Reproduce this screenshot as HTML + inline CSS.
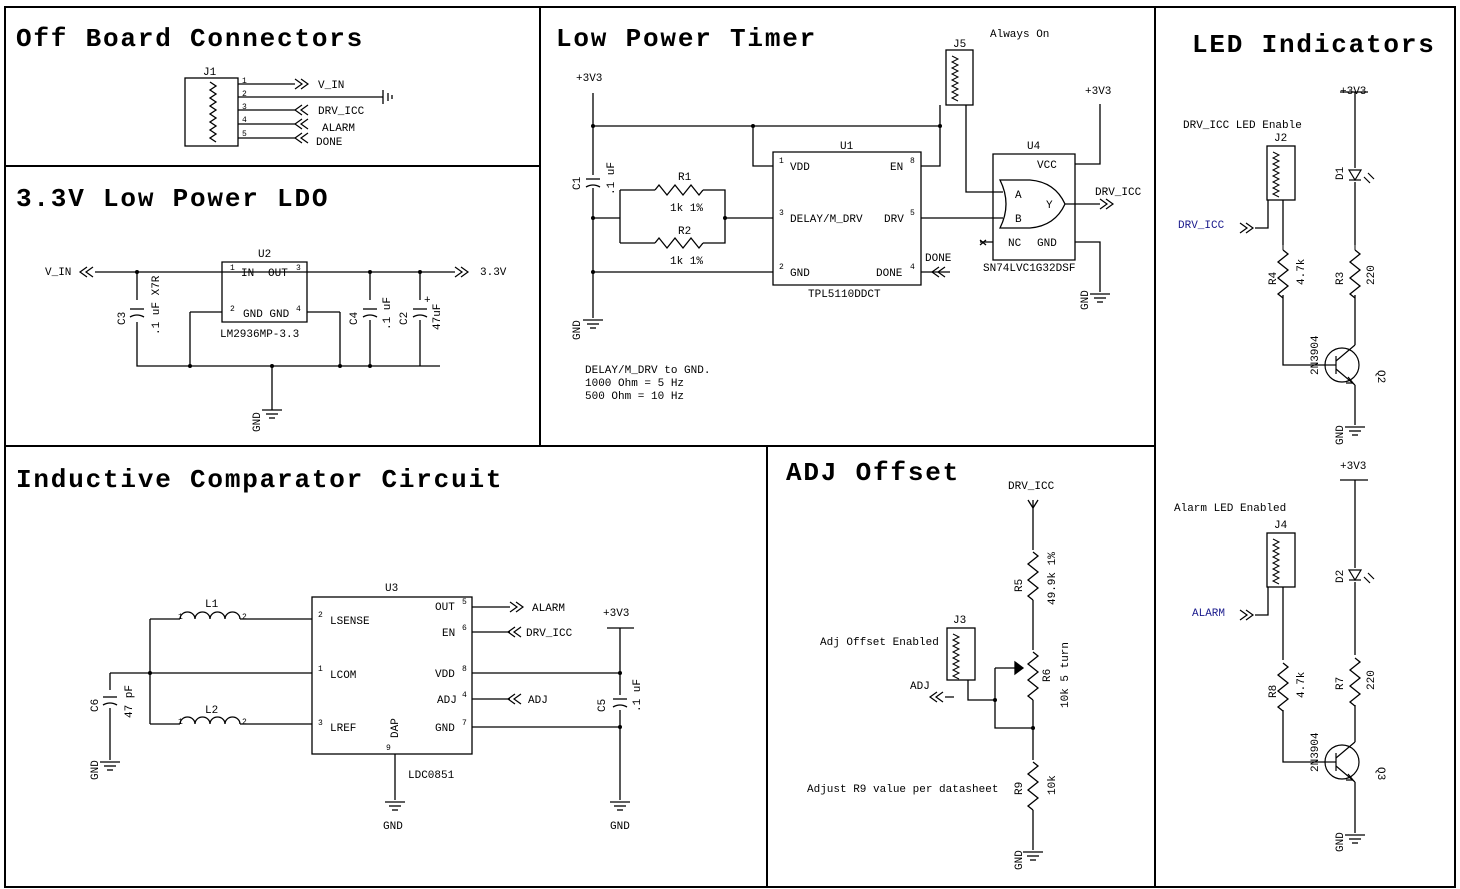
<!DOCTYPE html>
<html><head><meta charset="utf-8"><style>
html,body{margin:0;padding:0;background:#fff;}
svg{display:block;}
text{font-family:"Liberation Mono",monospace;fill:#000;}
.t{font-size:26px;font-weight:bold;letter-spacing:1.8px;}
.s{font-size:11px;}
.p{font-size:8px;}
.b{fill:#1a1a8c;font-size:11px;}
</style></head><body>
<svg width="1460" height="889" viewBox="0 0 1460 889" xmlns="http://www.w3.org/2000/svg">
<defs>
<g id="gnd" stroke="#000" fill="none" stroke-width="1.3"><line x1="-10" y1="0" x2="10" y2="0"/><line x1="-6" y1="4" x2="6" y2="4"/><line x1="-3" y1="8" x2="3" y2="8"/></g>
<path id="rv" d="M0 0 l5 4 l-10 8 l10 8 l-10 8 l10 8 l-10 8 l5 4" fill="none" stroke="#000" stroke-width="1.3"/>
<path id="rh" d="M0 0 l4 -5 l8 10 l8 -10 l8 10 l8 -10 l8 10 l4 -5" fill="none" stroke="#000" stroke-width="1.3"/>
<g id="cv" stroke="#000" fill="none" stroke-width="1.3"><line x1="-7" y1="-3" x2="7" y2="-3"/><path d="M-7 5 Q0 1 7 5"/></g>
<path id="ind" d="M0 0 a7.5 7 0 0 1 15 0 a7.5 7 0 0 1 15 0 a7.5 7 0 0 1 15 0 a7.5 7 0 0 1 15 0" fill="none" stroke="#000" stroke-width="1.3"/>
<path id="arR" d="M0 -5 l7 5 l-7 5 M6 -5 l7 5 l-7 5" fill="none" stroke="#000" stroke-width="1.2"/>
<path id="arL" d="M13 -5 l-7 5 l7 5 M7 -5 l-7 5 l7 5" fill="none" stroke="#000" stroke-width="1.2"/>
<g id="led" stroke="#000" fill="none" stroke-width="1.2"><path d="M-6 -5 L6 -5 L0 5 Z"/><line x1="-6" y1="5" x2="6" y2="5"/><path d="M9 2 l6 6 M13 -2 l6 6"/></g>
<g id="q" stroke="#000" fill="none" stroke-width="1.2"><circle cx="0" cy="0" r="17"/><line x1="-6" y1="-9" x2="-6" y2="9"/><line x1="-17" y1="0" x2="-6" y2="0"/><line x1="-6" y1="-4" x2="13" y2="-20"/><line x1="-6" y1="4" x2="13" y2="20"/><path d="M6 12 l5 6 l-7 0"/></g>
<path id="hdr" d="M0 0 l6 3 l-6 3 l6 3 l-6 3 l6 3 l-6 3 l6 3 l-6 3 l6 3 l-6 3 l6 3 l-6 3 l6 3 l-6 3 l6 3" fill="none" stroke="#000" stroke-width="1"/>
</defs>
<g stroke="#000" stroke-width="2" fill="none">
<rect x="5" y="7" width="1450" height="880"/>
<line x1="5" y1="166" x2="540" y2="166"/><line x1="540" y1="7" x2="540" y2="446"/>
<line x1="1155" y1="7" x2="1155" y2="887"/><line x1="5" y1="446" x2="1155" y2="446"/>
<line x1="767" y1="446" x2="767" y2="887"/>
</g>
<text class="t" x="16" y="46">Off Board Connectors</text>
<text class="t" x="16" y="206">3.3V Low Power LDO</text>
<text class="t" x="556" y="46">Low Power Timer</text>
<text class="t" x="1192" y="52">LED Indicators</text>
<text class="t" x="16" y="487">Inductive Comparator Circuit</text>
<text class="t" x="786" y="480">ADJ Offset</text>

<g stroke="#000" stroke-width="1.3" fill="none">
<rect x="185" y="78" width="53" height="68"/>
<path d="M210 82 l6 4 l-6 4 l6 4 l-6 4 l6 4 l-6 4 l6 4 l-6 4 l6 4 l-6 4 l6 4 l-6 4 l6 4 l-6 4 l6 4"/>
<path d="M238 84 H295 M238 97 H383 M238 110 H295 M238 124 H295 M238 138 H295"/>
<path d="M383 90 V104 M388 93 V101 M392 95 V99"/>
<path d="M95 272 H455 M137 272 V300 M137 322 V366 H440 M222 262 H307 V322 H222 Z M222 272 H240 M307 272 H290"/>
<path d="M190 312 V366 M340 312 V366 M307 312 H340 M190 312 H222 M272 366 V410 M370 272 V300 M370 320 V366 M420 272 V300 M420 320 V366"/>
<path d="M593 93 V175 M593 188 V318 M593 126 H940 M753 126 V166 H773 M773 152 H921 V285 H773 Z"/>
<path d="M593 218 H620 M620 190 V243 M620 190 H655 M703 190 H725 V243 H703 M655 243 H620 M725 218 H773 M593 272 H773"/>
<path d="M940 105 V166 H921 M966 105 V192 H1003 M921 218 H1003 M993 154 H1075 V260 H993 Z M1075 164 H1100 V104 M1075 242 H1100 V292"/>
<path d="M1000 180 Q1015 180 1030 180 Q1055 182 1065 204 Q1055 226 1030 228 L1000 228 Q1012 204 1000 180 Z M1065 204 H1100 M921 272 H950 M980 242 H993"/>
<path d="M980 240 l6 5 M986 240 l-6 5"/>
<rect x="946" y="50" width="27" height="55"/>
<path d="M1355 92 V168 M1355 182 V245 M1355 295 V345 M1355 385 V425 M1283 200 V245 M1283 295 V365 H1325 M1255 228 H1268 V200"/>
<rect x="1267" y="146" width="28" height="54"/>
<path d="M1355 480 V568 M1355 582 V655 M1355 705 V742 M1355 782 V833 M1283 587 V660 M1283 710 V762 H1325 M1255 615 H1268 V587"/>
<rect x="1267" y="533" width="28" height="54"/>
<path d="M1340 480 H1368 M1340 92 H1368"/>
<rect x="312" y="597" width="160" height="157"/>
<path d="M150 619 H180 M240 619 H312 M150 724 H180 M240 724 H312 M150 619 V724 M110 673 H312 M110 673 V690 M110 708 V760 M395 754 V800"/>
<path d="M472 607 H510 M472 632 H510 M472 673 H620 M472 699 H510 M472 727 H620 M620 628 V695 M620 710 V800 M607 628 H634"/>
<path d="M1033 500 V550 M1033 600 V650 M1033 700 V760 M1033 810 V850 M995 668 H1015 M995 668 V728 H1033 M968 680 V700 H995 M954 697 H945"/>
<path d="M1028 500 l5 8 l5 -8" />
<path d="M1015 662 l8 6 l-8 6 Z" fill="#000"/>
<rect x="947" y="628" width="28" height="52"/>
</g>
<g fill="#000"><circle cx="137" cy="272" r="2"/><circle cx="370" cy="272" r="2"/><circle cx="420" cy="272" r="2"/><circle cx="190" cy="366" r="2"/><circle cx="272" cy="366" r="2"/><circle cx="340" cy="366" r="2"/><circle cx="370" cy="366" r="2"/>
<circle cx="593" cy="126" r="2"/><circle cx="753" cy="126" r="2"/><circle cx="940" cy="126" r="2"/><circle cx="593" cy="218" r="2"/><circle cx="725" cy="218" r="2"/><circle cx="593" cy="272" r="2"/>
<circle cx="150" cy="673" r="2"/><circle cx="620" cy="673" r="2"/><circle cx="620" cy="727" r="2"/><circle cx="995" cy="700" r="2"/><circle cx="1033" cy="728" r="2"/></g>

<use href="#hdr" x="952" y="56"/><use href="#hdr" x="1273" y="152"/><use href="#hdr" x="1273" y="539"/><use href="#hdr" x="953" y="634"/>
<use href="#arR" x="295" y="84"/><use href="#arL" x="295" y="110"/><use href="#arL" x="295" y="124"/><use href="#arL" x="295" y="138"/>
<use href="#arL" x="80" y="272"/><use href="#arR" x="455" y="272"/>
<use href="#arR" x="1100" y="204"/><use href="#arL" x="932" y="272"/>
<use href="#arR" x="1240" y="228"/><use href="#arR" x="1240" y="615"/>
<use href="#arR" x="510" y="607"/><use href="#arL" x="508" y="632"/><use href="#arL" x="508" y="699"/><use href="#arL" x="930" y="697"/>
<use href="#rv" x="1283" y="250"/><use href="#rv" x="1355" y="250"/><use href="#rv" x="1283" y="663"/><use href="#rv" x="1355" y="658"/>
<use href="#rv" x="1033" y="552"/><use href="#rv" x="1033" y="652"/><use href="#rv" x="1033" y="762"/>
<path d="M1283 245 V250 M1283 298 V295 M1355 245 V250 M1355 298 V295" stroke="#000"/>
<use href="#rh" x="655" y="190"/><use href="#rh" x="655" y="243"/>
<use href="#ind" x="180" y="619"/><use href="#ind" x="180" y="724"/>
<use href="#cv" x="137" y="312"/><use href="#cv" x="370" y="312"/><use href="#cv" x="420" y="312"/><use href="#cv" x="593" y="182"/><use href="#cv" x="620" y="702"/><use href="#cv" x="110" y="700"/>
<use href="#led" x="1355" y="175"/><use href="#led" x="1355" y="575"/>
<use href="#q" x="1342" y="365"/><use href="#q" x="1342" y="762"/>
<use href="#gnd" x="272" y="410"/><use href="#gnd" x="593" y="320"/><use href="#gnd" x="1100" y="294"/><use href="#gnd" x="1355" y="427"/><use href="#gnd" x="1355" y="835"/>
<use href="#gnd" x="110" y="762"/><use href="#gnd" x="395" y="802"/><use href="#gnd" x="620" y="802"/><use href="#gnd" x="1033" y="852"/>

<text class="s" x="203" y="75">J1</text>
<text class="p" x="242" y="83">1</text><text class="p" x="242" y="96">2</text><text class="p" x="242" y="109">3</text><text class="p" x="242" y="122">4</text><text class="p" x="242" y="136">5</text>
<text class="s" x="318" y="88">V_IN</text><text class="s" x="318" y="114">DRV_ICC</text><text class="s" x="322" y="131">ALARM</text><text class="s" x="316" y="145">DONE</text>
<text class="s" x="45" y="275">V_IN</text><text class="s" x="480" y="275">3.3V</text>
<text class="s" x="258" y="257">U2</text><text class="s" x="241" y="276" font-size="9">IN</text><text class="s" x="268" y="276" font-size="9">OUT</text><text class="s" x="243" y="317" font-size="9">GND GND</text>
<text class="p" x="230" y="270">1</text><text class="p" x="296" y="270">3</text><text class="p" x="230" y="311">2</text><text class="p" x="296" y="311">4</text>
<text class="s" x="220" y="337">LM2936MP-3.3</text>
<text class="s" transform="translate(125,325) rotate(-90)">C3</text><text class="s" transform="translate(159,335) rotate(-90)">.1 uF  X7R</text>
<text class="s" transform="translate(357,325) rotate(-90)">C4</text><text class="s" transform="translate(390,330) rotate(-90)">.1 uF</text>
<text class="s" transform="translate(407,325) rotate(-90)">C2</text><text class="s" transform="translate(440,330) rotate(-90)">47uF</text><text class="s" x="424" y="303">+</text>
<text class="s" transform="translate(260,432) rotate(-90)">GND</text>
<text class="s" x="576" y="81">+3V3</text><text class="s" transform="translate(580,190) rotate(-90)">C1</text><text class="s" transform="translate(614,195) rotate(-90)">.1 uF</text>
<text class="s" transform="translate(580,340) rotate(-90)">GND</text>
<text class="s" x="678" y="180">R1</text><text class="s" x="670" y="211">1k  1%</text><text class="s" x="678" y="234">R2</text><text class="s" x="670" y="264">1k  1%</text>
<text class="s" x="840" y="149">U1</text><text class="s" x="790" y="170" font-size="9">VDD</text><text class="s" x="790" y="222" font-size="9">DELAY/M_DRV</text><text class="s" x="790" y="276" font-size="9">GND</text>
<text class="s" x="890" y="170" font-size="9">EN</text><text class="s" x="884" y="222" font-size="9">DRV</text><text class="s" x="876" y="276" font-size="9">DONE</text>
<text class="p" x="779" y="163">1</text><text class="p" x="779" y="215">3</text><text class="p" x="779" y="269">2</text><text class="p" x="910" y="163">8</text><text class="p" x="910" y="215">5</text><text class="p" x="910" y="269">4</text>
<text class="s" x="808" y="297">TPL5110DDCT</text><text class="s" x="925" y="261">DONE</text>
<text class="s" x="953" y="47">J5</text><text class="s" x="990" y="37" font-size="10">Always On</text>
<text class="s" x="1027" y="149">U4</text><text class="s" x="1037" y="168" font-size="9">VCC</text><text class="s" x="1037" y="246" font-size="9">GND</text><text class="s" x="1008" y="246" font-size="9">NC</text>
<text class="s" x="1015" y="198" font-size="9">A</text><text class="s" x="1015" y="222" font-size="9">B</text><text class="s" x="1046" y="208" font-size="9">Y</text>
<text class="s" x="983" y="271">SN74LVC1G32DSF</text><text class="s" x="1085" y="94">+3V3</text><text class="s" x="1095" y="195">DRV_ICC</text>
<text class="s" transform="translate(1088,310) rotate(-90)">GND</text>
<text class="s" x="585" y="373" font-size="10">DELAY/M_DRV to GND.</text><text class="s" x="585" y="386" font-size="10">1000 Ohm = 5 Hz</text><text class="s" x="585" y="399" font-size="10">500 Ohm = 10 Hz</text>
<text class="s" x="1340" y="94">+3V3</text><text class="s" x="1183" y="128" font-size="10">DRV_ICC LED Enable</text><text class="s" x="1274" y="141">J2</text>
<text class="b" x="1178" y="228">DRV_ICC</text>
<text class="s" transform="translate(1343,180) rotate(-90)">D1</text><text class="s" transform="translate(1276,285) rotate(-90)">R4</text><text class="s" transform="translate(1304,285) rotate(-90)">4.7k</text>
<text class="s" transform="translate(1343,285) rotate(-90)">R3</text><text class="s" transform="translate(1374,285) rotate(-90)">220</text>
<text class="s" transform="translate(1318,375) rotate(-90)">2N3904</text><text class="s" transform="translate(1378,370) rotate(90)">Q2</text>
<text class="s" transform="translate(1343,445) rotate(-90)">GND</text>
<text class="s" x="1340" y="469">+3V3</text><text class="s" x="1174" y="511" font-size="10">Alarm LED Enabled</text><text class="s" x="1274" y="528">J4</text>
<text class="b" x="1192" y="616">ALARM</text>
<text class="s" transform="translate(1343,583) rotate(-90)">D2</text><text class="s" transform="translate(1276,698) rotate(-90)">R8</text><text class="s" transform="translate(1304,698) rotate(-90)">4.7k</text>
<text class="s" transform="translate(1343,690) rotate(-90)">R7</text><text class="s" transform="translate(1374,690) rotate(-90)">220</text>
<text class="s" transform="translate(1318,772) rotate(-90)">2N3904</text><text class="s" transform="translate(1378,767) rotate(90)">Q3</text>
<text class="s" transform="translate(1343,852) rotate(-90)">GND</text>
<text class="s" x="205" y="607">L1</text><text class="s" x="205" y="713">L2</text>
<text class="p" x="178" y="619">1</text><text class="p" x="242" y="619">2</text><text class="p" x="178" y="724">1</text><text class="p" x="242" y="724">2</text>
<text class="s" x="385" y="591">U3</text><text class="s" x="330" y="624" font-size="9">LSENSE</text><text class="s" x="330" y="678" font-size="9">LCOM</text><text class="s" x="330" y="731" font-size="9">LREF</text>
<text class="p" x="318" y="617">2</text><text class="p" x="318" y="671">1</text><text class="p" x="318" y="725">3</text>
<text class="s" x="435" y="610" font-size="9">OUT</text><text class="s" x="442" y="636" font-size="9">EN</text><text class="s" x="435" y="677" font-size="9">VDD</text><text class="s" x="437" y="703" font-size="9">ADJ</text><text class="s" x="435" y="731" font-size="9">GND</text>
<text class="p" x="462" y="604">5</text><text class="p" x="462" y="630">6</text><text class="p" x="462" y="671">8</text><text class="p" x="462" y="697">4</text><text class="p" x="462" y="725">7</text>
<text class="s" transform="translate(398,738) rotate(-90)" font-size="9">DAP</text><text class="p" x="386" y="750">9</text>
<text class="s" x="408" y="778">LDC0851</text><text class="s" x="383" y="829">GND</text><text class="s" x="610" y="829">GND</text>
<text class="s" x="532" y="611">ALARM</text><text class="s" x="526" y="636">DRV_ICC</text><text class="s" x="528" y="703">ADJ</text><text class="s" x="603" y="616">+3V3</text>
<text class="s" transform="translate(605,712) rotate(-90)">C5</text><text class="s" transform="translate(640,712) rotate(-90)">.1 uF</text>
<text class="s" transform="translate(98,712) rotate(-90)">C6</text><text class="s" transform="translate(132,718) rotate(-90)">47 pF</text>
<text class="s" transform="translate(98,780) rotate(-90)">GND</text>
<text class="s" x="1008" y="489">DRV_ICC</text>
<text class="s" transform="translate(1022,592) rotate(-90)">R5</text><text class="s" transform="translate(1055,605) rotate(-90)">49.9k 1%</text>
<text class="s" transform="translate(1050,682) rotate(-90)">R6</text><text class="s" transform="translate(1068,708) rotate(-90)">10k 5 turn</text>
<text class="s" transform="translate(1022,795) rotate(-90)">R9</text><text class="s" transform="translate(1055,795) rotate(-90)">10k</text>
<text class="s" transform="translate(1022,870) rotate(-90)">GND</text>
<text class="s" x="953" y="623">J3</text><text class="s" x="820" y="645" font-size="10">Adj Offset Enabled</text><text class="s" x="910" y="689">ADJ</text>
<text class="s" x="807" y="792" font-size="10">Adjust R9 value per datasheet</text>
</svg>
</body></html>
